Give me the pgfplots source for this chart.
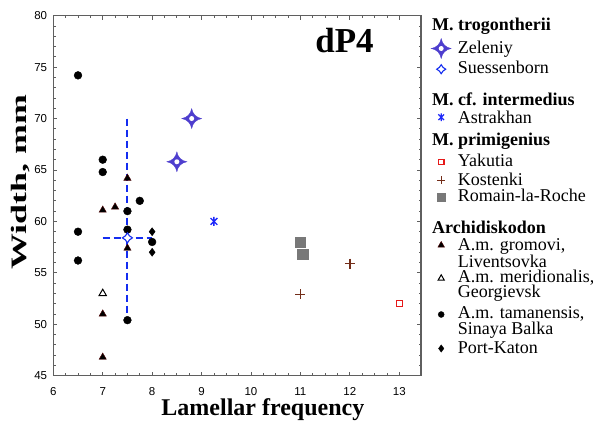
\documentclass[border=0pt]{standalone}
\usepackage{fontspec}
\setmainfont{Liberation Serif}
\newfontfamily\arialf{Liberation Sans}
\usepackage{graphicx}
\usepackage{pgfplots}
\pgfplotsset{compat=1.18}

\definecolor{zelcol}{RGB}{78,62,206}
\definecolor{sbcol}{RGB}{20,45,240}
\definecolor{astcol}{RGB}{30,40,250}
\definecolor{yakcol}{RGB}{230,25,25}
\definecolor{koscol}{RGB}{115,45,25}
\definecolor{romcol}{RGB}{120,120,120}
\definecolor{framecol}{RGB}{95,95,95}

% four-pointed star with concave sides; #1,#2 = control factors
\def\stpath#1#2{%
  \pgfpathmoveto{\pgfqpoint{0pt}{\pgfplotmarksize}}%
  \pgfpathcurveto{\pgfqpoint{#1\pgfplotmarksize}{#2\pgfplotmarksize}}{\pgfqpoint{#2\pgfplotmarksize}{#1\pgfplotmarksize}}{\pgfqpoint{\pgfplotmarksize}{0pt}}%
  \pgfpathcurveto{\pgfqpoint{#2\pgfplotmarksize}{-#1\pgfplotmarksize}}{\pgfqpoint{#1\pgfplotmarksize}{-#2\pgfplotmarksize}}{\pgfqpoint{0pt}{-\pgfplotmarksize}}%
  \pgfpathcurveto{\pgfqpoint{-#1\pgfplotmarksize}{-#2\pgfplotmarksize}}{\pgfqpoint{-#2\pgfplotmarksize}{-#1\pgfplotmarksize}}{\pgfqpoint{-\pgfplotmarksize}{0pt}}%
  \pgfpathcurveto{\pgfqpoint{-#2\pgfplotmarksize}{#1\pgfplotmarksize}}{\pgfqpoint{-#1\pgfplotmarksize}{#2\pgfplotmarksize}}{\pgfqpoint{0pt}{\pgfplotmarksize}}%
  \pgfpathclose}
\pgfdeclareplotmark{star4}{%
  \stpath{0.1}{0.45}\pgfusepathqfillstroke
  \begin{pgfscope}%
  \pgfsetfillcolor{white}%
  \pgfpathcircle{\pgfpointorigin}{0.25\pgfplotmarksize}%
  \pgfusepathqfill
  \end{pgfscope}}
\pgfdeclareplotmark{star4o}{\stpath{0.25}{0.5}\pgfusepathqfillstroke}
\pgfdeclareplotmark{ast}{%
  \pgfpathmoveto{\pgfqpoint{0pt}{\pgfplotmarksize}}\pgfpathlineto{\pgfqpoint{0pt}{-\pgfplotmarksize}}%
  \pgfpathmoveto{\pgfqpoint{0.75\pgfplotmarksize}{0.75\pgfplotmarksize}}\pgfpathlineto{\pgfqpoint{-0.75\pgfplotmarksize}{-0.75\pgfplotmarksize}}%
  \pgfpathmoveto{\pgfqpoint{-0.75\pgfplotmarksize}{0.75\pgfplotmarksize}}\pgfpathlineto{\pgfqpoint{0.75\pgfplotmarksize}{-0.75\pgfplotmarksize}}%
  \pgfusepathqstroke}

% legend rows with fixed height/depth
\newcommand\ent[2]{\raisebox{0pt}[#1pt][5pt]{#2}}
\newcommand\hd[1]{\hspace*{-25.7pt}\textbf{#1}}
\newcommand\twoent[5]{\raisebox{0pt}[#1pt][#2pt]{\vtop{\baselineskip=#3pt\lineskiplimit=-100pt\hbox{#4}\hbox{#5}}}}

\pgfplotsset{
  lgm/.style n args={3}{legend image code/.code={%
    \path[draw=none, fill=none] (0pt,0pt) -- (20pt,0pt);
    \path[#1] plot[only marks, #2] coordinates {(9pt,#3pt)};}},
  sbbar/.style={forget plot, no marks, draw=sbcol, color=sbcol,
    line width=2pt, dash pattern=on 7pt off 4pt},
}

\begin{document}
\begin{tikzpicture}
\useasboundingbox (-53.3pt,-52.3pt) rectangle (539.7pt,375.7pt);
\begin{axis}[
  scale only axis, width=367.7pt, height=360pt,
  xmin=6, xmax=13.44, ymin=45, ymax=80,
  xtick={6,...,13}, ytick={45,50,...,80},
  minor x tick num=3, minor y tick num=4,
  tick align=inside,
  major tick length=4pt, minor tick length=2.5pt,
  axis line style={draw=framecol, line width=1.1pt},
  tick style={draw=framecol, line width=0.8pt},
  /pgf/number format/assume math mode=true,
  tick label style={font=\arialf\fontsize{11.5}{12}\selectfont},
  xticklabel style={inner sep=0pt, yshift=-11.5pt},
  yticklabel style={inner sep=0pt, xshift=-6pt},
  xlabel={Lamellar frequency},
  ylabel={\scalebox{1.63}[1]{Width, mm}},
  xlabel style={at={(axis description cs:0.57,0)}, anchor=base, yshift=-39.3pt,
    font=\bfseries\fontsize{24}{24}\selectfont},
  ylabel style={at={(axis description cs:-0.0742,0.538)}, anchor=base,
    font=\bfseries\fontsize{22}{22}\selectfont},
  legend style={draw=none, fill=none, at={(1,1)}, anchor=north west,
    xshift=10pt, yshift=-0.3pt, inner sep=0pt, row sep=0pt, column sep=5.7pt,
    nodes={inner sep=0pt, text depth=, text height=},
    cells={anchor=base west},
    font=\fontsize{18}{18}\selectfont},
]

% Suessenborn range (dashed cross: min-max of each variable)
\addplot[sbbar] coordinates {(7,58.4) (8,58.4)};
\addplot[sbbar] coordinates {(7.5,70.0) (7.5,50.4)};

% Archidiskodon
\addplot[forget plot, only marks, mark=triangle*, mark size=4.2pt,
  mark options={fill=black, draw=black!70!red, line width=0.4pt}]
  coordinates {(7,61.1) (7.25,61.4) (7.5,64.2) (7.5,57.4) (7,51.0) (7,46.8)};
\addplot[forget plot, only marks, mark=triangle*, mark size=4.2pt,
  mark options={fill=white, draw=black, line width=1pt}]
  coordinates {(7,53.0)};
\addplot[forget plot, only marks, mark=*, mark size=3.9pt, black]
  coordinates {(6.5,74.2) (7,66.0) (7,64.8) (7.75,62.0) (7.5,61.0)
    (6.5,59.0) (7.5,59.2) (8,58.0) (6.5,56.2) (7.5,50.4)};
\addplot[forget plot, only marks, mark=diamond*, mark size=4pt, black]
  coordinates {(8,59.0) (8,57.0)};

% M. trogontherii, Zeleniy
\addplot[forget plot, only marks, mark=star4, mark size=10pt, color=zelcol,
  mark options={line width=0.3pt}]
  coordinates {(8.8,70.0) (8.5,65.8)};
% M. cf. intermedius, Astrakhan
\addplot[forget plot, only marks, mark=ast, mark size=4.5pt, color=astcol,
  mark options={line width=1.4pt}]
  coordinates {(9.25,60.0)};
% M. primigenius
\addplot[forget plot, only marks, mark=square, mark size=3pt,
  mark options={draw=yakcol, line width=1.2pt}]
  coordinates {(13,52.0)};
\addplot[forget plot, only marks, mark=+, mark size=5pt, color=koscol,
  mark options={line width=1.5pt}]
  coordinates {(11,52.9) (12,55.9)};
\addplot[forget plot, only marks, mark=square*, mark size=5.2pt, color=romcol]
  coordinates {(11,58.0) (11.05,56.8)};
% Suessenborn mean
\addplot[forget plot, only marks, mark=star4o, mark size=5pt,
  mark options={fill=white, draw=sbcol, line width=1.1pt}]
  coordinates {(7.5,58.4)};

\node[anchor=base west, inner sep=0pt, font=\bfseries\fontsize{35}{35}\selectfont]
  at (rel axis cs:0.712,0.898) {dP4};

% legend
\addlegendimage{empty legend}
\addlegendentry{\ent{14}{\hd{M. trogontherii}}}
\addlegendimage{lgm={draw=zelcol, fill=zelcol, line width=0.3pt}{mark=star4, mark size=10pt}{5}}
\addlegendentry{\ent{18.3}{Zeleniy}}
\addlegendimage{lgm={draw=sbcol, fill=white, line width=1.1pt}{mark=star4o, mark size=4.5pt}{4.3}}
\addlegendentry{\ent{15}{Suessenborn}}
\addlegendimage{empty legend}
\addlegendentry{\ent{26.7}{\hd{M. cf. intermedius}}}
\addlegendimage{lgm={draw=astcol, line width=1.2pt}{mark=ast, mark size=3.8pt}{6.3}}
\addlegendentry{\ent{13.3}{Astrakhan}}
\addlegendimage{empty legend}
\addlegendentry{\ent{16.7}{\hd{M. primigenius}}}
\addlegendimage{lgm={draw=yakcol, line width=1.2pt}{mark=square, mark size=2.8pt}{4.3}}
\addlegendentry{\ent{16}{Yakutia}}
\addlegendimage{lgm={draw=koscol, line width=1.4pt}{mark=+, mark size=4pt}{5}}
\addlegendentry{\ent{14}{Kostenki}}
\addlegendimage{lgm={draw=romcol, fill=romcol}{mark=square*, mark size=4pt}{4.3}}
\addlegendentry{\ent{11}{Romain-la-Roche}}
\addlegendimage{empty legend}
\addlegendentry{\ent{27.3}{\hd{Archidiskodon}}}
\addlegendimage{lgm={draw=black!70!red, fill=black, line width=0.4pt}{mark=triangle*, mark size=3.8pt}{5}}
\addlegendentry{\twoent{11.7}{22.7}{17.7}{A.m. gromovi,}{Liventsovka}}
\addlegendimage{lgm={draw=black, fill=white, line width=1pt}{mark=triangle*, mark size=3.6pt}{4.5}}
\addlegendentry{\twoent{10}{20}{15}{A.m. meridionalis,}{Georgievsk}}
\addlegendimage{lgm={draw=black, fill=black}{mark=*, mark size=3pt}{4}}
\addlegendentry{\twoent{15.6}{21}{16}{A.m. tamanensis,}{Sinaya Balka}}
\addlegendimage{lgm={draw=black, fill=black}{mark=diamond*, mark size=3.6pt}{5}}
\addlegendentry{\ent{14}{Port-Katon}}
\end{axis}
\end{tikzpicture}
\end{document}
